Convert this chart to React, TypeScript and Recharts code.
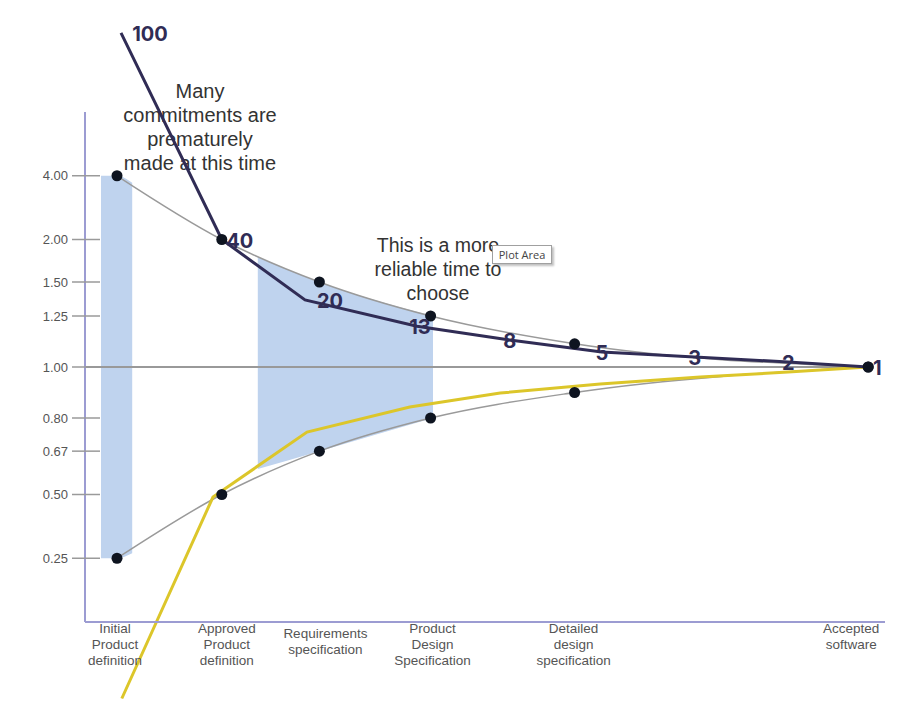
import React from 'react';
import { ComposedChart, Line, Area, XAxis, YAxis, ReferenceLine, LabelList } from 'recharts';

// Phases (x categories) and their position on the time axis
const phaseLabels = [
  ['Initial', 'Product', 'definition'],
  ['Approved', 'Product', 'definition'],
  ['Requirements', 'specification'],
  ['Product', 'Design', 'Specification'],
  ['Detailed', 'design', 'specification'],
  ['Accepted', 'software'],
];
const phaseTime = [4, 17.1, 29.3, 43.2, 61.2, 97.9];

// Cone of uncertainty bounds (multiplier of the estimate)
const upperBound = [4.0, 2.0, 1.5, 1.25, 1.1, 1.0];
const lowerBound = [0.25, 0.5, 0.67, 0.8, 0.9, 1.0];

// Y tick values / labels
const yTickValues = [0.25, 0.5, 0.67, 0.8, 1.0, 1.25, 1.5, 2.0, 4.0];
const yTickLabels = ['0.25', '0.50', '0.67', '0.80', '1.00', '1.25', '1.50', '2.00', '4.00'];

// Shaded windows
const band1Time = [2, 4, 5.9];
const band1Low = [0.25, 0.25, 0.27];
const band1High = [4.0, 4.0, 3.6];
const band2Time = [21.6, 29.3, 43.5];
const band2Low = [0.6, 0.67, 0.8];
const band2High = [1.76, 1.5, 1.25];

// Hand-drawn overlay lines (axis position units)
const highTime = [4.5, 17.1, 27.5, 41.5, 53.1, 64.6, 76.2, 87.9, 97.9];
const highPos = [1.31, 0.5, 0.263, 0.16, 0.106, 0.059, 0.039, 0.02, 0];
const highLabels = ['100', '40', '20', '13', '8', '5', '3', '2', '1'];
const lowTime = [4.6, 16, 27.75, 40.6, 51.9, 64.4, 76.9, 87.9, 97.9];
const lowPos = [-1.3, -0.51, -0.255, -0.157, -0.102, -0.067, -0.039, -0.02, 0];

// label offsets (style)
const highLabelDx = [29, 18, 25, 3, 0, 0, 0, 0, 9];
const phaseLabelDx = [-2, 5, 6, 2, -1, -17];
const phaseLabelDy = [0, 0, 5, 0, 0, 0];

// axis transform: symmetric ratio scale
const toPos = (v: number) => (v >= 1 ? 1 - 1 / v : v - 1);

const coneData = phaseTime.map((t, i) => ({ t, hi: toPos(upperBound[i]), lo: toPos(lowerBound[i]) }));
const band1Data = band1Time.map((t, i) => ({ t, range: [toPos(band1Low[i]), toPos(band1High[i])] }));
const band2Data = band2Time.map((t, i) => ({ t, range: [toPos(band2Low[i]), toPos(band2High[i])] }));
const highData = highTime.map((t, i) => ({ t, v: highPos[i], label: highLabels[i] }));
const lowData = lowTime.map((t, i) => ({ t, v: lowPos[i] }));
const yTicks = yTickValues.map(toPos);

const closest = (arr: number[], v: number) => {
  let best = 0;
  arr.forEach((a, i) => { if (Math.abs(a - v) < Math.abs(arr[best] - v)) best = i; });
  return best;
};

const YTick = (props: any) => {
  const { x, y, payload } = props;
  const i = closest(yTicks, payload.value);
  return (
    <g>
      <line x1={x - 13} x2={x + 15} y1={y} y2={y} stroke="#9a9a9a" strokeWidth={1.5} />
      <text x={x - 17} y={y} textAnchor="end" dominantBaseline="central" fontSize={13}
        fill="#555" fontFamily="'Liberation Sans', Arial, sans-serif">{yTickLabels[i]}</text>
    </g>
  );
};

const XTick = (props: any) => {
  const { x, y, payload } = props;
  const i = closest(phaseTime, payload.value);
  return (
    <text x={x + phaseLabelDx[i]} y={y + 11 + phaseLabelDy[i]} textAnchor="middle" fontSize={13.5} fill="#555"
      fontFamily="'Liberation Sans', Arial, sans-serif">
      {phaseLabels[i].map((line, k) => (
        <tspan key={k} x={x + phaseLabelDx[i]} dy={k === 0 ? 0 : 16}>{line}</tspan>
      ))}
    </text>
  );
};

const HighLabel = (props: any) => {
  const { x, y, index, value } = props;
  return (
    <text x={x + highLabelDx[index]} y={y + 1} textAnchor="middle" dominantBaseline="central"
      fontSize={20} fontWeight={700} fill="#302c55" fontFamily="Inter, 'DejaVu Sans', sans-serif">
      {value}
    </text>
  );
};

const annoStyle: React.CSSProperties = {
  position: 'absolute',
  fontFamily: "'Liberation Sans', Arial, sans-serif",
  color: '#333',
  textAlign: 'center',
  zIndex: 0,
};

export default function App() {
  return (
    <div style={{ position: 'relative', width: 909, height: 722, background: '#fff' }}>
      <style>{`body{margin:0} .overflow-series, .overflow-series *{clip-path:none !important}`}</style>
      <div style={{ ...annoStyle, left: 90, top: 79, width: 220, fontSize: 20, lineHeight: '24px' }}>
        Many<br />commitments are<br />prematurely<br />made at this time
      </div>
      <div style={{ ...annoStyle, left: 338, top: 233, width: 200, fontSize: 19.5, lineHeight: '24px' }}>
        This is a more<br />reliable time to<br />choose
      </div>
      <div style={{ position: 'absolute', left: 0, top: 0, zIndex: 1 }}>
        <ComposedChart width={909} height={722} margin={{ top: 112, right: 24, bottom: 60, left: 0 }}>
          <XAxis type="number" dataKey="t" domain={[0, 100]} ticks={phaseTime} interval={0}
            tick={XTick} tickLine={false} tickSize={0} tickMargin={0} height={40}
            axisLine={{ stroke: '#9c9cd2', strokeWidth: 2 }} allowDataOverflow />
          <YAxis type="number" domain={[-1, 1]} ticks={yTicks} interval={0} width={85}
            tick={YTick} tickLine={false} tickSize={0} tickMargin={0}
            axisLine={{ stroke: '#9c9cd2', strokeWidth: 2 }} allowDataOverflow />
          <Area data={band1Data} dataKey="range" type="monotone" fill="#bfd3ee" fillOpacity={1}
            stroke="none" isAnimationActive={false} activeDot={false} />
          <Area data={band2Data} dataKey="range" type="monotone" fill="#bfd3ee" fillOpacity={1}
            stroke="none" isAnimationActive={false} activeDot={false} />
          <ReferenceLine segment={[{ x: 0, y: 0 }, { x: 98, y: 0 }]} stroke="#999" strokeWidth={1.8} />
          <Line data={coneData} dataKey="lo" type="monotone" stroke="#9a9a9a" strokeWidth={1.5}
            dot={{ r: 5.5, fill: '#0e1420', stroke: 'none' }} activeDot={false} isAnimationActive={false} />
          <Line data={coneData} dataKey="hi" type="monotone" stroke="#9a9a9a" strokeWidth={1.5}
            dot={{ r: 5.5, fill: '#0e1420', stroke: 'none' }} activeDot={false} isAnimationActive={false} />
          <Line className="overflow-series" data={lowData} dataKey="v" type="linear" stroke="#dcc62a"
            strokeWidth={3} dot={false} activeDot={false} isAnimationActive={false} />
          <Line className="overflow-series" data={highData} dataKey="v" type="linear" stroke="#302c55"
            strokeWidth={3} dot={false} activeDot={false} isAnimationActive={false}>
            <LabelList dataKey="label" content={HighLabel} />
          </Line>
        </ComposedChart>
      </div>
      <div style={{
        position: 'absolute', left: 492, top: 245, width: 60, height: 19, zIndex: 2,
        border: '1px solid #a0a0a0', background: '#fff', boxSizing: 'border-box',
        boxShadow: '2px 2px 2px rgba(0,0,0,0.25)', fontFamily: "'Open Sans', 'Noto Sans', sans-serif",
        fontSize: 11, color: '#444', lineHeight: '17px', textAlign: 'center',
      }}>Plot Area</div>
    </div>
  );
}
